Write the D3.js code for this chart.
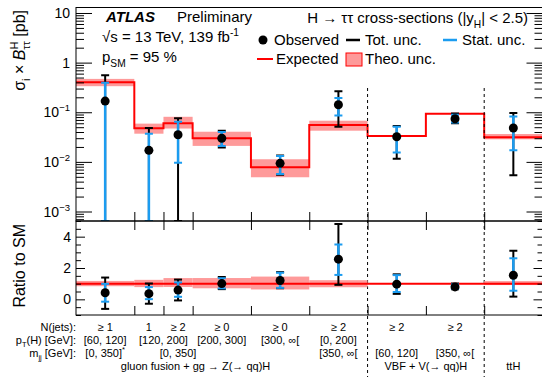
<!DOCTYPE html>
<html>
<head>
<meta charset="utf-8">
<script src="https://cdn.jsdelivr.net/npm/d3@7/dist/d3.min.js"></script>
<style>
  body { margin: 0; background: #fff; }
  svg { font-family: "Liberation Sans", Arial, Helvetica, sans-serif; }
</style>
</head>
<body>
<svg id="chart" width="542" height="384"></svg>
<script>
// bin edges in axis units, one bin per measured cross-section
const binEdges = [0, 2, 3, 4, 6, 8, 10, 12, 14, 16];
const expected = [0.40, 0.0474, 0.0597, 0.0298, 0.00778, 0.0552, 0.0332, 0.0933, 0.0313];
const theoLo   = [0.335, 0.037, 0.047, 0.021, 0.0049, 0.0425, 0.0332, 0.0933, 0.0285];
const theoHi   = [0.47, 0.059, 0.081, 0.0405, 0.0113, 0.0675, 0.0332, 0.0933, 0.0364];
const observed = [0.168, 0.0171, 0.0352, 0.0300, 0.00934, 0.1416, 0.0321, 0.074, 0.0481];
const totLo    = [-0.244, -0.0133, -0.0042, 0.0194, 0.0055, 0.0510, 0.0116, 0.060, 0.0054];
const totHi    = [0.556, 0.0479, 0.0753, 0.0425, 0.0135, 0.265, 0.053, 0.094, 0.097];
const statLo   = [-0.06, 0.0005, 0.0096, 0.0209, 0.0057, 0.086, 0.0155, 0.062, 0.0172];
const statHi   = [0.395, 0.037, 0.0645, 0.0402, 0.0132, 0.193, 0.0513, 0.089, 0.082];

// axis labels
const upperTicks = [1e-3, 1e-2, 1e-1, 1, 10];
const upperTickLabels = [['10', '−3'], ['10', '−2'], ['10', '−1'], ['1', ''], ['10', '']];
const ratioTicks = [0, 2, 4];
const njetsLabels = [[1, '≥ 1'], [2.5, '1'], [3.5, '≥ 2'], [5, '≥ 0'], [7, '≥ 0'], [9, '≥ 2'], [11, '≥ 2'], [13, '≥ 2']];
const ptLabels = [[1, '[60, 120]'], [3, '[120, 200]'], [5, '[200, 300]'], [7, '[300, ∞['], [9, '[0, 200]']];
const mjjLabels = [[1, '[0, 350]', '*'], [3.5, '[0, 350]'], [9, '[350, ∞['], [11, '[60, 120]'], [13, '[350, ∞[']];
const groupLabels = [[4.1, 'gluon fusion + gg → Z(→ qq)H'], [12, 'VBF + V(→ qq)H'], [15, 'ttH']];
const dashedAt = [10, 14];

const RED = '#ff0000', BAND = '#fe9a9a', BLUE = '#1b9cf0';
const frameL = 76, frameR = 542.5, frameT = 7.5, frameM = 221, frameB = 315;

const svg = d3.select('#chart');

const x = d3.scaleLinear().domain([0, 16]).range([frameL, frameR]);
const y = d3.scaleLog().domain([6.44e-4, 12.9]).range([frameM, frameT]);
const yr = d3.scaleLinear().domain([-1, 5]).range([frameB, frameM]);

const bins = expected.map((e, i) => ({
  x0: binEdges[i], x1: binEdges[i + 1], xc: (binEdges[i] + binEdges[i + 1]) / 2,
  exp: e, tLo: theoLo[i], tHi: theoHi[i], obs: observed[i],
  totLo: totLo[i], totHi: totHi[i], statLo: statLo[i], statHi: statHi[i]
}));

// text with sub/superscripts
function rich(sel, parts, size) {
  let shift = 0;
  parts.forEach(p => {
    const [kind, str, dx] = typeof p === 'string' ? ['n', p] : p;
    const target = kind === 'sup' ? -size * 0.42 : kind === 'sub' ? size * 0.3 : 0;
    const ts = sel.append('tspan').attr('dy', target - shift).text(str);
    if (kind === 'sup' || kind === 'sub') ts.attr('font-size', size * 0.68);
    if (kind === 'it') ts.attr('font-style', 'italic');
    if (dx) ts.attr('dx', dx);
    shift = target;
  });
  return sel;
}

svg.append('defs').call(d => {
  d.append('clipPath').attr('id', 'clipU').append('rect')
    .attr('x', frameL).attr('y', frameT).attr('width', frameR - frameL).attr('height', frameM - frameT);
  d.append('clipPath').attr('id', 'clipL').append('rect')
    .attr('x', frameL).attr('y', frameM).attr('width', frameR - frameL).attr('height', frameB - frameM);
});

// ---------- upper panel ----------
const up = svg.append('g').attr('clip-path', 'url(#clipU)');

up.selectAll('rect.band')
  .data(bins.filter(d => d.tHi > d.tLo))
  .enter().append('rect')
  .attr('x', d => x(d.x0)).attr('width', d => x(d.x1) - x(d.x0))
  .attr('y', d => y(d.tHi)).attr('height', d => y(d.tLo) - y(d.tHi))
  .attr('fill', BAND);

const stepPts = bins.map(d => [d.x0, d.exp]).concat([[16, expected[expected.length - 1]]]);
up.append('path')
  .attr('d', d3.line().curve(d3.curveStepAfter).x(d => x(d[0])).y(d => y(d[1]))(stepPts))
  .attr('fill', 'none').attr('stroke', RED).attr('stroke-width', 2);

// dashed separators
svg.selectAll('line.sep')
  .data(dashedAt).enter().append('line')
  .attr('x1', d => x(d)).attr('x2', d => x(d))
  .attr('y1', 88).attr('y2', 377)
  .attr('stroke', '#000').attr('stroke-width', 1).attr('stroke-dasharray', '3,3');

function errBars(g, py, lo, hi, color, w) {
  const cap = 4;
  const sel = g.selectAll(null).data(bins).enter().append('g');
  sel.append('line')
    .attr('x1', d => x(d.xc)).attr('x2', d => x(d.xc))
    .attr('y1', d => py(lo(d))).attr('y2', d => py(hi(d)))
    .attr('stroke', color).attr('stroke-width', w);
  [lo, hi].forEach(f => {
    sel.append('line')
      .attr('x1', d => x(d.xc) - cap).attr('x2', d => x(d.xc) + cap)
      .attr('y1', d => py(f(d))).attr('y2', d => py(f(d)))
      .attr('stroke', color).attr('stroke-width', 2);
  });
}

const pyU = v => v <= y.domain()[0] ? frameM : Math.max(frameT, y(v));
errBars(up, pyU, d => d.totLo, d => d.totHi, '#000', 2);
errBars(up, pyU, d => d.statLo, d => d.statHi, BLUE, 2.5);
up.selectAll('circle').data(bins).enter().append('circle')
  .attr('cx', d => x(d.xc)).attr('cy', d => y(d.obs)).attr('r', 4.5).attr('fill', '#000');

// ---------- lower panel ----------
const low = svg.append('g').attr('clip-path', 'url(#clipL)');
low.selectAll('rect.band')
  .data(bins.filter(d => d.tHi > d.tLo))
  .enter().append('rect')
  .attr('x', d => x(d.x0)).attr('width', d => x(d.x1) - x(d.x0))
  .attr('y', d => yr(d.tHi / d.exp)).attr('height', d => yr(d.tLo / d.exp) - yr(d.tHi / d.exp))
  .attr('fill', BAND);
low.append('line')
  .attr('x1', frameL).attr('x2', frameR).attr('y1', yr(1)).attr('y2', yr(1))
  .attr('stroke', RED).attr('stroke-width', 2);

const pyL = v => Math.min(frameB, Math.max(frameM, yr(v)));
errBars(low, v => v, d => pyL(d.totLo / d.exp), d => pyL(d.totHi / d.exp), '#000', 2);
errBars(low, v => v, d => pyL(d.statLo / d.exp), d => pyL(d.statHi / d.exp), BLUE, 2.5);
low.selectAll('circle').data(bins).enter().append('circle')
  .attr('cx', d => x(d.xc)).attr('cy', d => yr(d.obs / d.exp)).attr('r', 4.5).attr('fill', '#000');

// ---------- axes ----------
const noDomain = g => g.select('.domain').remove();
const minorU = [];
for (let k = -4; k <= 1; k++) for (let m = 2; m <= 9; m++) {
  const v = m * Math.pow(10, k);
  if (v > y.domain()[0] && v < y.domain()[1]) minorU.push(v);
}
const minorR = d3.range(-1, 5.01, 0.5).filter(v => v % 2 !== 0);
const xTicks = binEdges.slice(1, -1);

function axisTicks(axis, tx, ty) {
  svg.append('g').attr('transform', `translate(${tx},${ty})`)
    .call(axis.tickFormat('').tickSizeOuter(0)).call(noDomain);
}
axisTicks(d3.axisLeft(y).tickValues(upperTicks).tickSizeInner(-16), frameL, 0);
axisTicks(d3.axisLeft(y).tickValues(minorU).tickSizeInner(-8), frameL, 0);
axisTicks(d3.axisRight(y).tickValues(upperTicks).tickSizeInner(-16), frameR, 0);
axisTicks(d3.axisRight(y).tickValues(minorU).tickSizeInner(-8), frameR, 0);
axisTicks(d3.axisLeft(yr).tickValues(ratioTicks).tickSizeInner(-9), frameL, 0);
axisTicks(d3.axisLeft(yr).tickValues(minorR).tickSizeInner(-5), frameL, 0);
axisTicks(d3.axisRight(yr).tickValues(ratioTicks).tickSizeInner(-9), frameR, 0);
axisTicks(d3.axisRight(yr).tickValues(minorR).tickSizeInner(-5), frameR, 0);
axisTicks(d3.axisBottom(x).tickValues(xTicks).tickSizeInner(-9), 0, frameM);
axisTicks(d3.axisTop(x).tickValues(xTicks).tickSizeInner(-9), 0, frameM);
axisTicks(d3.axisBottom(x).tickValues(xTicks).tickSizeInner(-9), 0, frameB);

svg.selectAll('.tick line').attr('stroke', '#000');

// frames
svg.append('rect').attr('x', frameL).attr('y', frameT).attr('width', frameR - frameL).attr('height', frameM - frameT)
  .attr('fill', 'none').attr('stroke', '#000').attr('stroke-width', 1);
svg.append('rect').attr('x', frameL).attr('y', frameM).attr('width', frameR - frameL).attr('height', frameB - frameM)
  .attr('fill', 'none').attr('stroke', '#000').attr('stroke-width', 1);

// tick labels
upperTicks.forEach((v, i) => {
  const [base, exp] = upperTickLabels[i];
  const t = svg.append('text').attr('x', 70).attr('y', y(v) + 5).attr('text-anchor', 'end')
    .attr('font-size', 14);
  rich(t, exp ? [base, ['sup', exp]] : [base], 14);
});
ratioTicks.forEach(v => {
  svg.append('text').attr('x', 71).attr('y', yr(v) + 5).attr('text-anchor', 'end')
    .attr('font-size', 14).text(v);
});

// axis titles
rich(svg.append('text').attr('transform', 'translate(25,10) rotate(-90)')
  .attr('text-anchor', 'end').attr('font-size', 16),
  ['σ', ['sub', 'i'], ' × ', ['it', 'B'], ['sup', 'H'], ['sub', 'ττ', -8], ' [pb]'], 16);
svg.append('text').attr('transform', 'translate(25,224) rotate(-90)')
  .attr('text-anchor', 'end').attr('font-size', 16).text('Ratio to SM');

// ---------- header ----------
svg.append('text').attr('x', 106).attr('y', 22).attr('font-size', 15)
  .attr('font-weight', 'bold').attr('font-style', 'italic').text('ATLAS');
svg.append('text').attr('x', 177).attr('y', 22).attr('font-size', 15).text('Preliminary');
rich(svg.append('text').attr('x', 102).attr('y', 42).attr('font-size', 15),
  ['√s = 13 TeV, 139 fb', ['sup', '-1']], 15);
rich(svg.append('text').attr('x', 102).attr('y', 62).attr('font-size', 15),
  ['p', ['sub', 'SM'], ' = 95 %'], 15);
rich(svg.append('text').attr('x', 528).attr('y', 23).attr('font-size', 15).attr('text-anchor', 'end'),
  ['H → ττ cross-sections (|y', ['sub', 'H'], '| < 2.5)'], 15);

// legend
const leg = svg.append('g').attr('font-size', 15);
leg.append('circle').attr('cx', 263).attr('cy', 40).attr('r', 4.5).attr('fill', '#000');
leg.append('text').attr('x', 274).attr('y', 45).text('Observed');
leg.append('line').attr('x1', 346).attr('x2', 360).attr('y1', 40).attr('y2', 40)
  .attr('stroke', '#000').attr('stroke-width', 2.5);
leg.append('text').attr('x', 365).attr('y', 45).text('Tot. unc.');
leg.append('line').attr('x1', 443).attr('x2', 457).attr('y1', 40).attr('y2', 40)
  .attr('stroke', BLUE).attr('stroke-width', 2.5);
leg.append('text').attr('x', 462).attr('y', 45).text('Stat. unc.');
leg.append('line').attr('x1', 257).attr('x2', 273).attr('y1', 59).attr('y2', 59)
  .attr('stroke', RED).attr('stroke-width', 2);
leg.append('text').attr('x', 276).attr('y', 64).text('Expected');
leg.append('rect').attr('x', 346).attr('y', 53).attr('width', 16).attr('height', 13)
  .attr('fill', BAND).attr('stroke', RED).attr('stroke-width', 1);
leg.append('text').attr('x', 365).attr('y', 64).text('Theo. unc.');

// ---------- category labels below ----------
const fs = 11;
const rows = [331, 344, 357, 370];
const lab = svg.append('g').attr('font-size', fs);
lab.append('text').attr('x', 76).attr('y', rows[0]).attr('text-anchor', 'end').text('N(jets):');
rich(lab.append('text').attr('x', 76).attr('y', rows[1]).attr('text-anchor', 'end'),
  ['p', ['sub', 'T'], '(H) [GeV]:'], fs);
rich(lab.append('text').attr('x', 76).attr('y', rows[2]).attr('text-anchor', 'end'),
  ['m', ['sub', 'jj'], ' [GeV]:'], fs);

njetsLabels.forEach(([p, t]) => lab.append('text').attr('x', x(p)).attr('y', rows[0])
  .attr('text-anchor', 'middle').text(t));
ptLabels.forEach(([p, t]) => lab.append('text').attr('x', x(p)).attr('y', rows[1])
  .attr('text-anchor', 'middle').text(t));
mjjLabels.forEach(([p, t, s]) => {
  const el = lab.append('text').attr('x', x(p)).attr('y', rows[2]).attr('text-anchor', 'middle');
  rich(el, s ? [t, ['sup', s]] : [t], fs);
});
groupLabels.forEach(([p, t]) => lab.append('text').attr('x', x(p)).attr('y', rows[3])
  .attr('text-anchor', 'middle').text(t));
</script>
</body>
</html>
